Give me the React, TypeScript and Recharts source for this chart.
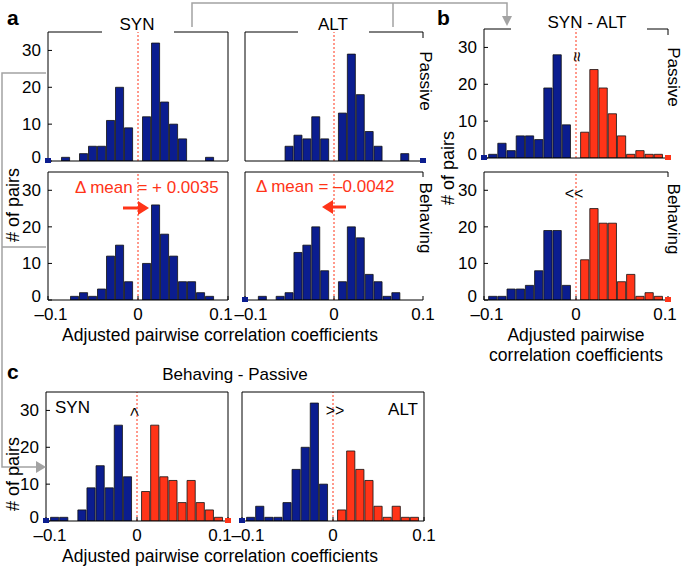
import React from 'react';
import { ComposedChart, Bar, Cell, XAxis, YAxis, ReferenceLine, ReferenceDot } from 'recharts';

const FONT = '"Liberation Sans", Arial, Helvetica, sans-serif';
const BLUE = '#0b1d8f';
const RED = '#ff3418';
const GREY = '#a3a3a3';

// histogram bins (centres), -0.1 .. 0.1
const binCenters = [
  -0.1, -0.09, -0.08, -0.07, -0.06, -0.05, -0.04, -0.03, -0.02, -0.01, 0,
  0.01, 0.02, 0.03, 0.04, 0.05, 0.06, 0.07, 0.08, 0.09, 0.1,
];
const yTicks = [0, 10, 20, 30];
const xTicks = [-0.1, 0, 0.1];

// panel a
const synPassive = [0, 0, 1, 0, 2, 4, 4, 11, 20, 9, 0, 12, 32, 16, 10, 6, 0, 0, 1, 0, 0];
const altPassive = [0, 0, 0, 0, 0, 4, 7, 6, 12, 6, 0, 13, 29, 18, 8, 4, 0, 0, 2, 0, 0];
const synBehaving = [0, 0, 0, 1, 2, 1, 3, 12, 15, 5, 0, 10, 26, 18, 12, 5, 5, 2, 1, 0, 0];
const altBehaving = [0, 0, 1, 0, 1, 2, 13, 15, 20, 8, 0, 5, 20, 17, 7, 5, 1, 2, 0, 0, 0];
// panel b (SYN - ALT)
const diffPassive = [0, 1, 4, 2, 6, 6, 5, 19, 28, 9, 0, 7, 24, 19, 12, 6, 1, 2, 1, 1, 0];
const diffBehaving = [0, 1, 1, 3, 3, 4, 8, 19, 19, 4, 0, 11, 25, 21, 21, 5, 7, 1, 2, 1, 0];
// panel c (Behaving - Passive)
const synChange = [0, 1, 1, 0, 3, 9, 15, 9, 26, 12, 0, 8, 26, 12, 11, 5, 11, 5, 3, 1, 0];
const altChange = [0, 1, 4, 1, 1, 5, 14, 20, 32, 10, 0, 3, 19, 14, 11, 4, 1, 4, 1, 1, 0];

// overflow markers sitting on the axis ends
const synPassiveEdges = [-0.1];
const altPassiveEdges = [0.1];
const synBehavingEdges: number[] = [];
const altBehavingEdges = [-0.1];
const diffPassiveEdges = [-0.1, 0.1];
const diffBehavingEdges = [0.1];
const synChangeEdges = [-0.1, 0.1];
const altChangeEdges = [-0.1];

const fmtX = (v: number) => (v === 0 ? '0' : (v < 0 ? '–' : '') + Math.abs(v));

type HistProps = {
  counts: number[];
  edges: number[];
  split?: boolean;
  x: number;
  y: number;
  w: number;
  h: number;
  yLabels?: boolean;
  xLabels?: boolean;
  rightAxis?: boolean;
  shift?: [number, number]; // nudges for the -0.1 / 0.1 labels so neighbours don't collide
};

const AXW = 40;
const RW = 10;
const EXTRA = 24;
const MT = 5;
const XH = 32;
const TICK_FS = 17;

function Hist({ counts, edges, split, x, y, w, h, yLabels, xLabels, rightAxis, shift = [0, 0] }: HistProps) {
  const data = binCenters.map((c, i) => ({ c, n: counts[i] }));
  const xTick = (p: any) => {
    const v = p.payload.value;
    const dx = v < 0 ? shift[0] : v > 0 ? shift[1] : 0;
    return (
      <text x={p.x + dx} y={p.y} dy="0.71em" textAnchor="middle" fontSize={TICK_FS} fill="#000" fontFamily={FONT}>
        {fmtX(v)}
      </text>
    );
  };
  const yTick = (p: any) => {
    const v = p.payload.value;
    return (
      <text x={p.x} y={p.y + (v === 0 ? -4 : 0)} dy="0.355em" textAnchor="end" fontSize={TICK_FS} fill="#000" fontFamily={FONT}>
        {v}
      </text>
    );
  };
  return (
    <div style={{ position: 'absolute', left: x - AXW, top: y - MT }}>
      <ComposedChart
        width={AXW + w + RW + EXTRA}
        height={MT + h + XH}
        data={data}
        margin={{ top: MT, right: rightAxis ? EXTRA : RW + EXTRA, bottom: 0, left: 0 }}
        barCategoryGap={0}
        barGap={0}
      >
        <XAxis
          dataKey="c"
          type="number"
          domain={[-0.1, 0.1]}
          allowDataOverflow
          ticks={xTicks}
          interval={0}
          height={XH}
          tickSize={-4}
          tickMargin={12}
          stroke="#000"
          tick={xLabels ? xTick : false}
        />
        <YAxis
          yAxisId="l"
          domain={[0, 35]}
          allowDataOverflow
          ticks={yTicks}
          interval={0}
          width={AXW}
          tickSize={-4}
          tickMargin={11}
          stroke="#000"
          tick={yLabels ? yTick : false}
        />
        {rightAxis && (
          <YAxis
            yAxisId="r"
            orientation="right"
            domain={[0, 35]}
            allowDataOverflow
            ticks={yTicks}
            interval={0}
            width={RW}
            tickSize={-4}
            stroke="#000"
            tick={false}
          />
        )}
        <ReferenceLine yAxisId="l" x={0} stroke={RED} strokeWidth={1} strokeDasharray="2 2" />
        <Bar yAxisId="l" dataKey="n" barSize={w / 20} stroke="#111" strokeWidth={0.8} isAnimationActive={false}>
          {data.map((d) => (
            <Cell key={d.c} fill={split && d.c > 0 ? RED : BLUE} />
          ))}
        </Bar>
        {edges.map((e) => (
          <ReferenceDot
            key={e}
            yAxisId="l"
            x={e}
            y={0}
            shape={(p: any) => (
              <rect x={p.cx - 3} y={p.cy - 3} width={6} height={5} fill={split && e > 0 ? RED : BLUE} />
            )}
          />
        ))}
      </ComposedChart>
    </div>
  );
}

export default function App() {
  const t = { fontFamily: FONT, fill: '#000' };
  return (
    <div style={{ position: 'absolute', left: 0, top: 0, width: 685, height: 571, background: '#fff', fontFamily: FONT }}>
      <Hist counts={synPassive} edges={synPassiveEdges} x={48} y={32} w={180} h={129} yLabels rightAxis />
      <Hist counts={altPassive} edges={altPassiveEdges} x={245} y={32} w={178} h={129} />
      <Hist counts={synBehaving} edges={synBehavingEdges} x={48} y={172} w={180} h={128} yLabels xLabels rightAxis shift={[3, -7]} />
      <Hist counts={altBehaving} edges={altBehavingEdges} x={245} y={172} w={178} h={128} xLabels shift={[6, 0]} />
      <Hist counts={diffPassive} edges={diffPassiveEdges} split x={484} y={29} w={184} h={129} yLabels />
      <Hist counts={diffBehaving} edges={diffBehavingEdges} split x={484} y={172} w={184} h={128} yLabels xLabels shift={[3, -3]} />
      <Hist counts={synChange} edges={synChangeEdges} split x={46} y={392} w={182} h={129} yLabels xLabels rightAxis shift={[4, -8]} />
      <Hist counts={altChange} edges={altChangeEdges} split x={242} y={392} w={182} h={129} xLabels rightAxis shift={[6, 0]} />

      <svg width={685} height={571} style={{ position: 'absolute', left: 0, top: 0, pointerEvents: 'none' }}>
        {/* panel letters */}
        <text x={7} y={25} fontSize={21} fontWeight="bold" {...t}>a</text>
        <text x={437} y={25} fontSize={21} fontWeight="bold" {...t}>b</text>
        <text x={7} y={379} fontSize={21} fontWeight="bold" {...t}>c</text>

        {/* grey connectors */}
        <path d="M192,27 V3 H507 V18 M393,3 V27" stroke={GREY} strokeWidth={1.5} fill="none" />
        <polygon points="502,16 512,16 507,26" fill={GREY} />
        <path d="M46,73 H2 V467 H37 M46,247 H2" stroke={GREY} strokeWidth={1.5} fill="none" />
        <polygon points="36,461 36,473 46,467" fill={GREY} />

        {/* header brackets / box tops */}
        <g stroke="#000" strokeWidth={1} fill="none">
          <path d="M48,32 H102 M174,32 H228" />
          <path d="M245,32 H298 M369,32 H423 V38" />
          <path d="M484,29 H511 M647,29 H668 V35" />
          <path d="M48,172 H228" />
          <path d="M245,172 H423 V177" />
          <path d="M484,172 H668 V177" />
          <path d="M46,392 H228" />
          <path d="M242,392 H424" />
        </g>
        <text x={137} y={30} fontSize={17} textAnchor="middle" {...t}>SYN</text>
        <text x={333} y={30} fontSize={17} textAnchor="middle" {...t}>ALT</text>
        <text x={587} y={28} fontSize={17} textAnchor="middle" {...t}>SYN - ALT</text>
        <text x={235} y={380} fontSize={17} textAnchor="middle" {...t}>Behaving - Passive</text>

        {/* row labels */}
        <text transform="translate(425,81) rotate(90)" fontSize={17} textAnchor="middle" dominantBaseline="central" {...t}>Passive</text>
        <text transform="translate(425,218) rotate(90)" fontSize={17} textAnchor="middle" dominantBaseline="central" {...t}>Behaving</text>
        <text transform="translate(673,77) rotate(90)" fontSize={17} textAnchor="middle" dominantBaseline="central" {...t}>Passive</text>
        <text transform="translate(673,219) rotate(90)" fontSize={17} textAnchor="middle" dominantBaseline="central" {...t}>Behaving</text>

        {/* y titles */}
        <text transform="translate(13,205) rotate(-90)" fontSize={18} textAnchor="middle" dominantBaseline="central" {...t}># of pairs</text>
        <text transform="translate(448,168) rotate(-90)" fontSize={18} textAnchor="middle" dominantBaseline="central" {...t}># of pairs</text>
        <text transform="translate(13,474) rotate(-90)" fontSize={18} textAnchor="middle" dominantBaseline="central" {...t}># of pairs</text>

        {/* x titles */}
        <text x={220} y={341} fontSize={17.5} textAnchor="middle" {...t}>Adjusted pairwise correlation coefficients</text>
        <text x={576} y={341} fontSize={17.5} textAnchor="middle" {...t}>Adjusted pairwise</text>
        <text x={576} y={361} fontSize={17.5} textAnchor="middle" {...t}>correlation coefficients</text>
        <text x={220} y={562} fontSize={17.5} textAnchor="middle" {...t}>Adjusted pairwise correlation coefficients</text>

        {/* mean shift annotations */}
        <text x={75} y={193} fontSize={17} fill={RED} fontFamily={FONT}>Δ mean = + 0.0035</text>
        <line x1={123} y1={208} x2={140} y2={208} stroke={RED} strokeWidth={3} />
        <polygon points="138,201 138,215 149,208" fill={RED} />
        <text x={256} y={192} fontSize={17} fill={RED} fontFamily={FONT}>Δ mean = –0.0042</text>
        <line x1={346} y1={207} x2={330} y2={207} stroke={RED} strokeWidth={3} />
        <polygon points="333,200 333,214 322,207" fill={RED} />

        {/* significance marks */}
        <text transform="translate(577,57) rotate(90)" fontSize={18} textAnchor="middle" dominantBaseline="central" {...t}>≈</text>
        <text x={574} y={199} fontSize={16} textAnchor="middle" {...t}>&lt;&lt;</text>
        <text transform="translate(134,412) rotate(90)" fontSize={16} textAnchor="middle" dominantBaseline="central" {...t}>&lt;</text>
        <text x={335} y={416} fontSize={16} textAnchor="middle" {...t}>&gt;&gt;</text>

        {/* inset labels in c */}
        <text x={55} y={413} fontSize={17} {...t}>SYN</text>
        <text x={418} y={415} fontSize={17} textAnchor="end" {...t}>ALT</text>
      </svg>
    </div>
  );
}
